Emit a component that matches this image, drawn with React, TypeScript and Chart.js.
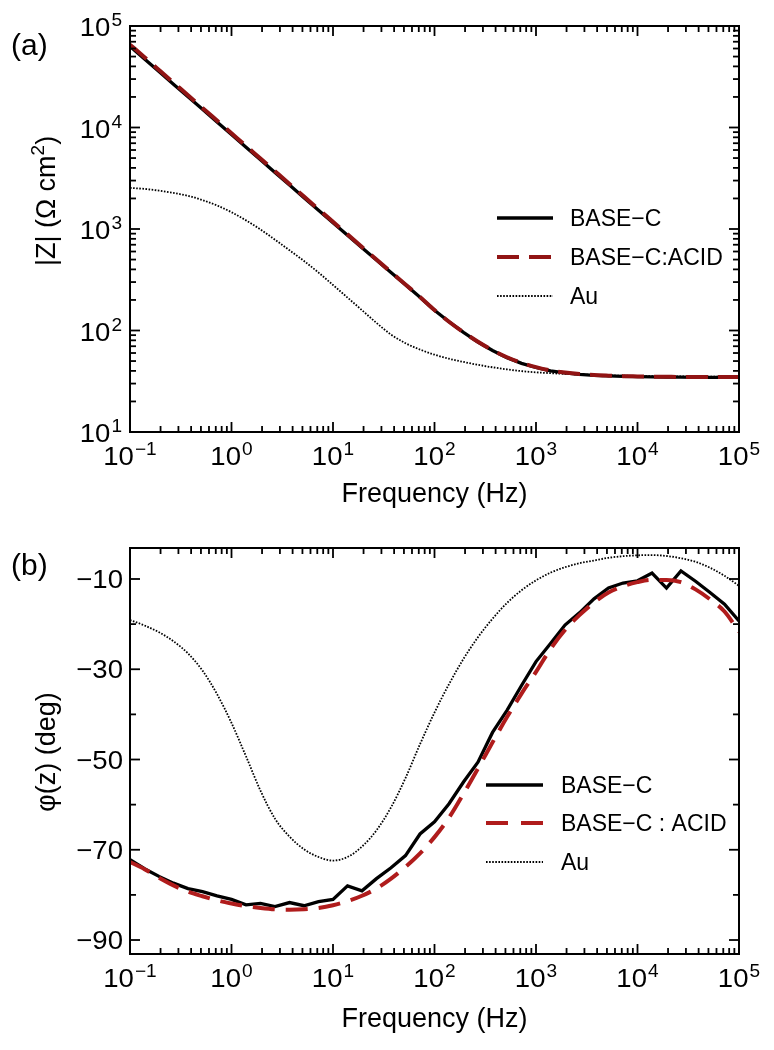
import React, { useEffect, useRef } from 'react';
import { Chart, registerables } from 'chart.js';

Chart.register(...registerables);

// ---------------- data ----------------
const FREQ_HZ = [0.1, 0.139, 0.193, 0.268, 0.373, 0.518, 0.72, 1, 1.39, 1.93, 2.68, 3.73, 5.18, 7.2, 10, 13.9, 19.3, 26.8, 37.3, 51.8, 72, 100, 139, 193, 268, 373, 518, 720, 1000, 1390, 1930, 2680, 3730, 5180, 7200, 10000, 13900, 19300, 26800, 37300, 51800, 72000, 100000];

const Z_BASE_C = [63100, 47400, 35600, 26700, 20100, 15090, 11330, 8510, 6390, 4800, 3610, 2710, 2035, 1529, 1154, 868, 654, 494, 373, 282, 213, 158, 122, 96, 77, 63.5, 54, 47.5, 43.2, 40.1, 38.3, 37.0, 36.2, 35.7, 35.3, 35.1, 34.9, 34.8, 34.7, 34.6, 34.6, 34.5, 34.5];
const Z_BASE_C_ACID = [65500, 49200, 36900, 27700, 20800, 15600, 11700, 8780, 6590, 4940, 3710, 2780, 2085, 1565, 1178, 885, 665, 500, 376, 284, 214, 159, 122, 96, 77.5, 64, 54.5, 48, 43.6, 40.4, 38.5, 37.2, 36.4, 35.9, 35.5, 35.3, 35.1, 35.0, 34.9, 34.9, 34.8, 34.8, 34.8];
const Z_AU = [2541, 2483, 2388, 2265, 2123, 1928, 1706, 1462, 1216, 989, 785, 617, 484, 372, 281, 211, 158.5, 118.9, 91.2, 75.0, 64.9, 57.8, 52.7, 49.0, 45.9, 43.4, 41.4, 39.8, 38.7, 38.0, 37.4, 36.9, 36.5, 36.1, 35.9, 35.6, 35.5, 35.4, 35.3, 35.2, 35.2, 35.2, 35.2];

const PHASE_BASE_C = [-72.2, -74.2, -75.9, -77.4, -78.6, -79.3, -80.2, -81.0, -82.2, -81.9, -82.6, -81.7, -82.4, -81.5, -81.0, -78.0, -79.1, -76.4, -74.0, -71.3, -66.5, -63.8, -59.8, -55.0, -50.6, -44.0, -39.1, -33.6, -28.3, -24.3, -20.2, -17.5, -14.4, -12.0, -10.9, -10.4, -8.7, -12.0, -8.2, -10.5, -13.0, -15.6, -19.3];
const PHASE_BASE_C_ACID = [-72.7, -74.3, -76.2, -77.9, -79.3, -80.3, -81.2, -81.9, -82.5, -82.9, -83.2, -83.3, -83.2, -82.9, -82.3, -81.4, -80.2, -78.6, -76.4, -73.8, -70.8, -67.2, -62.9, -57.6, -52.0, -46.2, -40.6, -35.4, -30.6, -25.5, -21.3, -18.0, -15.2, -13.0, -11.6, -10.7, -10.2, -10.2, -10.7, -12.3, -14.5, -17.2, -21.7];
const PHASE_AU = [-19.1, -20.3, -21.8, -23.8, -26.5, -30.3, -35.5, -41.9, -49.3, -56.9, -63.1, -67.1, -69.9, -71.6, -72.4, -71.6, -69.3, -65.7, -60.6, -54.1, -46.6, -39.6, -33.3, -27.7, -22.9, -18.8, -15.3, -12.5, -10.3, -8.6, -7.4, -6.5, -5.9, -5.3, -4.95, -4.75, -4.7, -4.9, -5.4, -6.2, -7.5, -9.3, -11.5];

const X_TICK_EXPONENTS = [-1, 0, 1, 2, 3, 4, 5];
const Y_TICK_EXPONENTS_A = [1, 2, 3, 4, 5];
const Y_TICKS_B = [-10, -30, -50, -70, -90];
const Y_MINOR_TICKS_B = [-20, -40, -60, -80];
const LEGEND_A = ['BASE−C', 'BASE−C:ACID', 'Au'];
const LEGEND_B = ['BASE−C', 'BASE−C : ACID', 'Au'];
const X_TITLE = 'Frequency (Hz)';

// ---------------- styling ----------------
const FONT = '"Liberation Sans", Arial, Helvetica, sans-serif';
const TICK_SIZE = 26;
const SUP_SIZE = 18;
const TICK_STRETCH = 1.06;
const RED_A = '#911414';
const RED_B = '#b01c1c';
const DOT_DASH = [1.6, 1.5];
const W = 774;
const H = 525;

type Piece = { s: string; size: number; raise: number };
type LegendItem = { text: string; color: string; width: number; dash: number[] };
type Decor = {
  tag: string;
  tagBaseline: number;
  logY: boolean;
  xTitleBaseline: number;
  yTitle: Piece[];
  yTitleCenter: number;
  legendX1: number;
  legendX2: number;
  legendTextX: number;
  legendRows: number[];
  legend: LegendItem[];
};

function textW(ctx: CanvasRenderingContext2D, s: string, size: number) {
  ctx.font = `${size}px ${FONT}`;
  return ctx.measureText(s).width;
}
function put(ctx: CanvasRenderingContext2D, s: string, x: number, y: number, size: number, stretch = 1) {
  ctx.save();
  ctx.font = `${size}px ${FONT}`;
  ctx.textAlign = 'left';
  ctx.textBaseline = 'alphabetic';
  ctx.translate(x, y);
  ctx.scale(stretch, 1);
  ctx.fillText(s, 0, 0);
  ctx.restore();
}
function powLabel(ctx: CanvasRenderingContext2D, exp: number, x: number, y: number, align: 'center' | 'right') {
  const base = '10';
  const e = exp < 0 ? '−' + Math.abs(exp) : String(exp);
  const wb = textW(ctx, base, TICK_SIZE) * TICK_STRETCH;
  const we = textW(ctx, e, SUP_SIZE) * TICK_STRETCH;
  const total = wb + 1 + we;
  const x0 = align === 'center' ? x - total / 2 : x - total;
  put(ctx, base, x0, y, TICK_SIZE, TICK_STRETCH);
  put(ctx, e, x0 + wb + 1, y - 10, SUP_SIZE, TICK_STRETCH);
}

function decorPlugin(p: Decor) {
  return {
    id: 'decor',
    afterDatasetsDraw(chart: any) {
      const ctx: CanvasRenderingContext2D = chart.ctx;
      const { left, right, top, bottom } = chart.chartArea;
      const xs = chart.scales.x;
      const ys = chart.scales.y;
      ctx.save();
      ctx.fillStyle = '#000';
      ctx.strokeStyle = '#000';
      ctx.setLineDash([]);
      ctx.lineCap = 'butt';
      const seg = (x1: number, y1: number, x2: number, y2: number) => {
        ctx.beginPath();
        ctx.moveTo(x1, y1);
        ctx.lineTo(x2, y2);
        ctx.stroke();
      };
      ctx.lineWidth = 1.8;
      // x ticks (bottom and top, pointing inward)
      X_TICK_EXPONENTS.forEach((e, i) => {
        const px = xs.getPixelForValue(Math.pow(10, e));
        seg(px, bottom, px, bottom - 10);
        seg(px, top, px, top + 10);
        if (i < X_TICK_EXPONENTS.length - 1) {
          for (let m = 2; m <= 9; m++) {
            const q = xs.getPixelForValue(m * Math.pow(10, e));
            seg(q, bottom, q, bottom - 6);
            seg(q, top, q, top + 6);
          }
        }
      });
      // y ticks (left and right)
      if (p.logY) {
        Y_TICK_EXPONENTS_A.forEach((e, i) => {
          const py = ys.getPixelForValue(Math.pow(10, e));
          seg(left, py, left + 10, py);
          seg(right, py, right - 10, py);
          if (i < Y_TICK_EXPONENTS_A.length - 1) {
            for (let m = 2; m <= 9; m++) {
              const q = ys.getPixelForValue(m * Math.pow(10, e));
              seg(left, q, left + 6, q);
              seg(right, q, right - 6, q);
            }
          }
        });
      } else {
        Y_TICKS_B.forEach((v) => {
          const py = ys.getPixelForValue(v);
          seg(left, py, left + 10, py);
          seg(right, py, right - 10, py);
        });
        Y_MINOR_TICKS_B.forEach((v) => {
          const py = ys.getPixelForValue(v);
          seg(left, py, left + 6, py);
          seg(right, py, right - 6, py);
        });
      }
      // frame
      ctx.lineWidth = 2;
      ctx.strokeRect(left, top, right - left, bottom - top);

      // tick labels
      X_TICK_EXPONENTS.forEach((e) => powLabel(ctx, e, xs.getPixelForValue(Math.pow(10, e)), bottom + 33, 'center'));
      if (p.logY) {
        Y_TICK_EXPONENTS_A.forEach((e) => powLabel(ctx, e, 122, ys.getPixelForValue(Math.pow(10, e)) + 10, 'right'));
      } else {
        Y_TICKS_B.forEach((v) => {
          const s = (v < 0 ? '−' : '') + Math.abs(v);
          const w = textW(ctx, s, TICK_SIZE) * TICK_STRETCH;
          put(ctx, s, 123 - w, ys.getPixelForValue(v) + 9, TICK_SIZE, TICK_STRETCH);
        });
      }

      // x title
      const tw = textW(ctx, X_TITLE, 27);
      put(ctx, X_TITLE, (left + right) / 2 - tw / 2, p.xTitleBaseline, 27);

      // y title (rotated)
      const widths = p.yTitle.map((pc) => textW(ctx, pc.s, pc.size));
      const total = widths.reduce((a, b) => a + b, 0);
      ctx.save();
      ctx.translate(55, p.yTitleCenter);
      ctx.rotate(-Math.PI / 2);
      let u = -total / 2;
      p.yTitle.forEach((pc, i) => {
        put(ctx, pc.s, u, -pc.raise, pc.size);
        u += widths[i];
      });
      ctx.restore();

      // panel tag
      put(ctx, p.tag, 11, p.tagBaseline, 30);

      // legend
      p.legend.forEach((item, i) => {
        const y = p.legendRows[i];
        ctx.save();
        ctx.strokeStyle = item.color;
        ctx.lineWidth = item.width;
        ctx.setLineDash(item.dash);
        ctx.lineCap = 'butt';
        seg(p.legendX1, y, p.legendX2, y);
        ctx.restore();
        put(ctx, item.text, p.legendTextX, y + 8, 23);
      });
      ctx.restore();
    },
  };
}

function points(values: number[]) {
  return FREQ_HZ.map((f, i) => ({ x: f, y: values[i] }));
}

function makeChart(
  canvas: HTMLCanvasElement,
  opts: {
    solid: number[];
    dashed: number[];
    dotted: number[];
    red: string;
    dash: number[];
    yType: 'logarithmic' | 'linear';
    yMin: number;
    yMax: number;
    padTop: number;
    xAxisH: number;
    labels: string[];
    decor: Decor;
  }
) {
  return new Chart(canvas, {
    type: 'line',
    data: {
      datasets: [
        {
          label: opts.labels[1],
          data: points(opts.dashed),
          borderColor: opts.red,
          borderWidth: 4,
          borderDash: opts.dash,
          pointRadius: 0,
          fill: false,
          cubicInterpolationMode: 'monotone',
          order: 0,
        } as any,
        {
          label: opts.labels[0],
          data: points(opts.solid),
          borderColor: '#000',
          borderWidth: 3.3,
          pointRadius: 0,
          fill: false,
          tension: 0,
          order: 1,
        },
        {
          label: opts.labels[2],
          data: points(opts.dotted),
          borderColor: '#000',
          borderWidth: 1.8,
          borderDash: DOT_DASH,
          pointRadius: 0,
          fill: false,
          cubicInterpolationMode: 'monotone',
          order: 2,
        } as any,
      ],
    },
    options: {
      responsive: false,
      animation: false,
      devicePixelRatio: 1,
      layout: { padding: { left: 0, right: 35, top: opts.padTop, bottom: 0 } },
      plugins: { legend: { display: false }, tooltip: { enabled: false } },
      scales: {
        x: {
          type: 'logarithmic',
          min: 0.1,
          max: 100000,
          ticks: { display: false },
          grid: { display: false },
          border: { display: false },
          afterFit: (s: any) => {
            s.height = opts.xAxisH;
          },
        },
        y: {
          type: opts.yType,
          min: opts.yMin,
          max: opts.yMax,
          ticks: { display: false },
          grid: { display: false },
          border: { display: false },
          afterFit: (s: any) => {
            s.width = 130;
          },
        },
      } as any,
    },
    plugins: [decorPlugin(opts.decor)],
  });
}

export default function App() {
  const refA = useRef<HTMLCanvasElement>(null);
  const refB = useRef<HTMLCanvasElement>(null);

  useEffect(() => {
    const a = makeChart(refA.current!, {
      solid: Z_BASE_C,
      dashed: Z_BASE_C_ACID,
      dotted: Z_AU,
      red: RED_A,
      dash: [22, 10],
      yType: 'logarithmic',
      yMin: 10,
      yMax: 100000,
      padTop: 26,
      xAxisH: H - 432,
      labels: LEGEND_A,
      decor: {
        tag: '(a)',
        tagBaseline: 55,
        logY: true,
        xTitleBaseline: 502,
        yTitle: [
          { s: '|Z| (Ω cm', size: 27, raise: 0 },
          { s: '2', size: 19, raise: 11 },
          { s: ')', size: 27, raise: 0 },
        ],
        yTitleCenter: 201,
        legendX1: 497,
        legendX2: 553,
        legendTextX: 570,
        legendRows: [218, 257, 296],
        legend: [
          { text: LEGEND_A[0], color: '#000', width: 3.5, dash: [] },
          { text: LEGEND_A[1], color: RED_A, width: 4, dash: [22, 10] },
          { text: LEGEND_A[2], color: '#000', width: 1.8, dash: DOT_DASH },
        ],
      },
    });
    const b = makeChart(refB.current!, {
      solid: PHASE_BASE_C,
      dashed: PHASE_BASE_C_ACID,
      dotted: PHASE_AU,
      red: RED_B,
      dash: [22, 11],
      yType: 'linear',
      yMin: -93.1,
      yMax: -3.13,
      padTop: 23,
      xAxisH: H - 429,
      labels: LEGEND_B,
      decor: {
        tag: '(b)',
        tagBaseline: 50,
        logY: false,
        xTitleBaseline: 502,
        yTitle: [{ s: 'φ(z) (deg)', size: 27, raise: 0 }],
        yTitleCenter: 227,
        legendX1: 486,
        legendX2: 543,
        legendTextX: 561,
        legendRows: [260, 298, 337],
        legend: [
          { text: LEGEND_B[0], color: '#000', width: 3.5, dash: [] },
          { text: LEGEND_B[1], color: RED_B, width: 4, dash: [22, 13] },
          { text: LEGEND_B[2], color: '#000', width: 1.8, dash: DOT_DASH },
        ],
      },
    });
    return () => {
      a.destroy();
      b.destroy();
    };
  }, []);

  return (
    <div style={{ position: 'absolute', left: 0, top: 0, width: W, height: 2 * H, background: '#fff' }}>
      <canvas ref={refA} width={W} height={H} style={{ display: 'block' }} />
      <canvas ref={refB} width={W} height={H} style={{ display: 'block' }} />
    </div>
  );
}
